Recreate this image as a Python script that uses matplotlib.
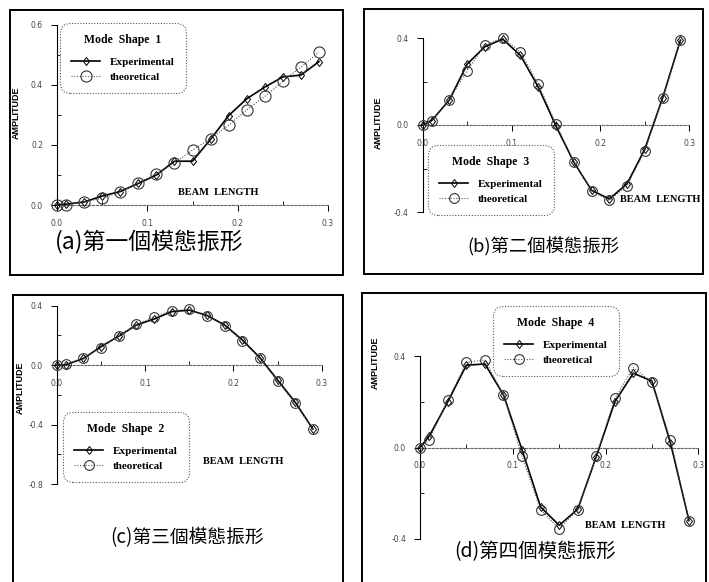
import matplotlib
matplotlib.use("Agg")
import matplotlib.pyplot as plt
from matplotlib.patches import Rectangle
from matplotlib.ticker import MultipleLocator, FormatStrFormatter

W, H = 709, 582

# beam positions (same for every mode)
beam_x = [0, 0.01, 0.03, 0.05, 0.07, 0.09, 0.11, 0.13, 0.15, 0.17, 0.19, 0.21, 0.23, 0.25, 0.27, 0.29]

# mode shape 1
exp_1 = [0, 0.003, 0.01, 0.03, 0.045, 0.072, 0.1, 0.146, 0.146, 0.219, 0.298, 0.354, 0.393, 0.427, 0.433, 0.478]
theo_1 = [0, 0.0, 0.011, 0.022, 0.042, 0.075, 0.103, 0.14, 0.183, 0.221, 0.266, 0.317, 0.362, 0.412, 0.46, 0.509]
# mode shape 3
exp_3 = [0, 0.02, 0.115, 0.28, 0.36, 0.395, 0.32, 0.175, -0.005, -0.17, -0.3, -0.34, -0.27, -0.11, 0.125, 0.39]
theo_3 = [0, 0.017, 0.117, 0.25, 0.366, 0.4, 0.335, 0.189, 0.005, -0.169, -0.303, -0.346, -0.28, -0.118, 0.123, 0.389]
# mode shape 2
exp_2 = [0, 0.003, 0.045, 0.125, 0.195, 0.27, 0.31, 0.36, 0.37, 0.335, 0.27, 0.17, 0.05, -0.1, -0.25, -0.43]
theo_2 = [0, 0.005, 0.049, 0.117, 0.198, 0.274, 0.326, 0.366, 0.375, 0.33, 0.265, 0.162, 0.045, -0.108, -0.258, -0.431]
# mode shape 4
exp_4 = [0, 0.05, 0.2, 0.36, 0.365, 0.23, -0.01, -0.26, -0.34, -0.27, -0.04, 0.2, 0.325, 0.29, 0.02, -0.32]
theo_4 = [0, 0.033, 0.208, 0.372, 0.383, 0.23, -0.039, -0.272, -0.356, -0.272, -0.039, 0.215, 0.349, 0.285, 0.033, -0.323]

captions = ["(a)第一個模態振形", "(b)第二個模態振形", "(c)第三個模態振形", "(d)第四個模態振形"]
legend_titles = ["Mode  Shape  1", "Mode  Shape  3", "Mode  Shape  2", "Mode  Shape  4"]

SERIF = {"family": "Liberation Serif", "weight": "bold"}
CJK = ["Noto Sans CJK TC", "DejaVu Sans"]


def fig_rect(x0, y0, x1, y1):
    return [x0 / W, 1 - y1 / H, (x1 - x0) / W, (y1 - y0) / H]


def fx(x):
    return x / W


def fy(y):
    return 1 - y / H


fig = plt.figure(figsize=(W / 100, H / 100), dpi=100)

# panel frames
for (x0, y0, x1, y1) in [(10, 10, 343, 275), (364, 9, 703, 274), (13, 295, 343, 590), (362, 293, 706, 590)]:
    fig.add_artist(Rectangle((fx(x0), fy(y1)), fx(x1) - fx(x0), fy(y0) - fy(y1),
                             transform=fig.transFigure, fill=False, lw=1.4, ec="black"))

panels = [
    dict(rect=(57, 25, 328, 205), ylim=(0, 0.6), ystep=0.2, exp=exp_1, theo=theo_1,
         leg=(60, 23), beam=(218, 193), amp=(16, 113), cap=(149, 241), capsize=16.5, ms=8),
    dict(rect=(422.7, 38, 689.3, 212), ylim=(-0.4, 0.4), ystep=0.4, exp=exp_3, theo=theo_3,
         leg=(428, 145), beam=(660, 199), amp=(378, 123), cap=(543, 247), capsize=13.2, ms=7),
    dict(rect=(57, 305.7, 321.7, 484), ylim=(-0.8, 0.4), ystep=0.4, exp=exp_2, theo=theo_2,
         leg=(63, 412), beam=(243, 462), amp=(20, 388), cap=(187, 538), capsize=13.5, ms=7),
    dict(rect=(420, 356, 698.3, 539), ylim=(-0.4, 0.4), ystep=0.4, exp=exp_4, theo=theo_4,
         leg=(493, 306), beam=(625, 525), amp=(375, 363), cap=(535, 552), capsize=14, ms=7),
]

for i, p in enumerate(panels):
    ax = fig.add_axes(fig_rect(*p["rect"]))
    ax.patch.set_alpha(0)
    ax.set_xlim(0, 0.3)
    ax.set_ylim(*p["ylim"])

    l_exp, = ax.plot(beam_x, p["exp"], color="black", lw=1.2, marker="d", ms=4.5,
                     mfc="none", mec="black", mew=0.7, clip_on=False, zorder=3)
    l_theo, = ax.plot(beam_x, p["theo"], color="#555555", lw=0.8, ls=(0, (1, 1.5)),
                      marker="o", ms=p["ms"], mfc="none", mec="#333333", mew=0.8,
                      clip_on=False, zorder=4)

    for side in ("top", "right"):
        ax.spines[side].set_visible(False)
    ax.spines["left"].set_linewidth(0.8)
    ax.spines["bottom"].set_position(("data", 0))
    ax.spines["bottom"].set_linestyle((0, (2, 1.5)))
    ax.spines["bottom"].set_color("#666666")
    ax.spines["bottom"].set_linewidth(0.8)

    ax.xaxis.set_major_locator(MultipleLocator(0.1))
    ax.xaxis.set_minor_locator(MultipleLocator(0.05))
    ax.yaxis.set_major_locator(MultipleLocator(p["ystep"]))
    ax.yaxis.set_minor_locator(MultipleLocator(p["ystep"] / 2))
    ax.xaxis.set_major_formatter(FormatStrFormatter("%.1f"))
    ax.yaxis.set_major_formatter(FormatStrFormatter("%.1f"))
    ax.tick_params(which="major", length=4, width=0.7, labelsize=5.5,
                   labelcolor="#444444", direction="out")
    ax.tick_params(axis="x", which="major", pad=6)
    ax.tick_params(axis="y", which="major", pad=6)
    ax.tick_params(which="minor", length=3, width=0.6, direction="in")

    leg = ax.legend([l_exp, l_theo], ["Experimental", "theoretical"], title=legend_titles[i],
                    loc="upper left", bbox_to_anchor=(fx(p["leg"][0]), fy(p["leg"][1])),
                    bbox_transform=fig.transFigure, borderaxespad=0, numpoints=1,
                    handlelength=2.6, handletextpad=0.9, labelspacing=0.45,
                    borderpad=1.0, prop=dict(SERIF, size=8), fancybox=True,
                    framealpha=1, facecolor="white")
    leg.get_title().set_fontproperties(dict(SERIF, size=8.5))
    leg._legend_box.sep = 8
    frame = leg.get_frame()
    frame.set_linestyle((0, (1, 1.5)))
    frame.set_edgecolor("#555555")
    frame.set_linewidth(0.8)
    frame.set_boxstyle("round", pad=0, rounding_size=0.9)

    fig.text(fx(p["beam"][0]), fy(p["beam"][1]), "BEAM  LENGTH", ha="center", va="center",
             fontsize=7.5, **SERIF)
    fig.text(fx(p["amp"][0]), fy(p["amp"][1]), "AMPLITUDE", ha="center", va="center",
             rotation=90, fontsize=6.5, family="Liberation Sans", weight="bold")
    fig.text(fx(p["cap"][0]), fy(p["cap"][1]), captions[i], ha="center", va="center",
             fontsize=p["capsize"], family=CJK)

fig.savefig("out.png", dpi=100)
